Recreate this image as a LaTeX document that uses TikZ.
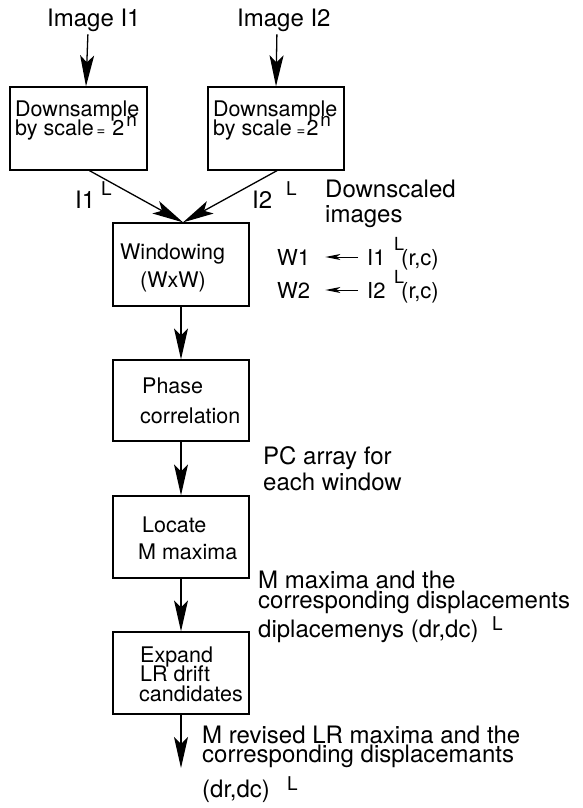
\documentclass[tikz,border=0pt]{standalone}
\usepackage{fontspec}
\setmainfont{TeX Gyre Heros}
\usetikzlibrary{arrows.meta}
\begin{document}
\begin{tikzpicture}[x=1pt,y=-1pt,
  box/.style={draw, line width=1.3pt, minimum width=136pt, minimum height=82pt, inner sep=0pt},
  lbl/.style={font=\fontsize{24}{24}\selectfont, inner sep=0pt, anchor=base west},
  btxt/.style={font=\fontsize{21.5}{21.5}\selectfont, inner sep=0pt, anchor=base west},
  wtxt/.style={font=\fontsize{22}{22}\selectfont, inner sep=0pt, anchor=base west},
  suptxt/.style={font=\fontsize{19}{19}\selectfont, inner sep=0pt, anchor=base west},
  arr/.style={-{Stealth[length=31pt,width=14pt,inset=7pt]}, line width=1.3pt},
  sarr/.style={-{Stealth[length=15pt,width=6pt,inset=4pt]}, line width=1pt}]
\useasboundingbox (0,0) rectangle (583,808);

% inputs
\node[lbl, inner ysep=2pt] (img1) at (47,27) {Image I1};
\node[lbl, inner ysep=2pt] (img2) at (237,27) {Image I2};

% downsampling boxes
\node[box, minimum width=137pt, minimum height=83pt] (d1) at (78.5,128.5) {};
\node[box, minimum height=83pt] (d2) at (276,128.5) {};
\node[btxt] (d1a) at (15,116) {Downsample};
\node[btxt] (d1b) at (15,135) {by scale\kern3pt{\fontsize{15}{15}\selectfont =}\kern7pt 2\kern2pt\raisebox{9pt}{\fontsize{19}{19}\selectfont n}};
\node[btxt] (d2a) at (213,116) {Downsample};
\node[btxt] (d2b) at (213,135) {by scale\kern5pt{\fontsize{15}{15}\selectfont =}\kern1pt 2\kern2pt\raisebox{9pt}{\fontsize{19}{19}\selectfont n}};

\draw[arr] ([xshift=-6pt]img1.south) -- ([xshift=7.5pt]d1.north);
\draw[arr] ([xshift=-7pt]img2.south) -- (d2.north);

% downscaled image labels
\node[lbl] (l1) at (75,208) {I1};
\node[suptxt] (l1s) at (101,195) {L};
\node[lbl] (l2) at (252,208) {I2};
\node[suptxt] (l2s) at (286,195) {L};

% processing chain
\node[box, minimum height=83pt] (win) at (181,264.5) {};
\node[btxt] (wina) at (120,259) {Windowing};
\node[btxt] (winb) at (140,287) {(WxW)};

\node[box, minimum height=81pt] (pc) at (181,400.5) {};
\node[btxt] (pca) at (142,393) {Phase};
\node[btxt] (pcb) at (140,423) {correlation};

\node[box] (loc) at (181,537) {};
\node[btxt] (loca) at (142,532) {Locate};
\node[btxt] (locb) at (138,559) {M maxima};

\node[box] (exp) at (181,673) {};
\node[btxt] (expa) at (140,662) {Expand};
\node[btxt] (expb) at (140,681) {LR drift};
\node[btxt] (expc) at (139,701) {candidates};

\draw[arr] ([xshift=11pt]d1.south) -- ([xshift=2pt]win.north);
\draw[arr] ([xshift=1pt]d2.south) -- ([xshift=2pt]win.north);
\draw[arr] (win.south) -- (pc.north);
\draw[arr] (pc.south) -- (loc.north);
\draw[arr] (loc.south) -- (exp.north);
\coordinate (out) at (181,768);
\draw[arr] (exp.south) -- (out);

% side notes
\node[lbl] (ds1) at (325,197) {Downscaled};
\node[lbl] (ds2) at (325,222) {images};

\node[wtxt] (w1) at (277,265) {W1};
\node[wtxt] (i1r) at (367,265) {I1};
\node[suptxt, font=\fontsize{18}{18}\selectfont] (i1rs) at (394,250) {L};
\node[wtxt] (i1rc) at (401,265) {(r,c)};
\draw[sarr] ([xshift=-9pt,yshift=8pt]i1r.base west) -- ([xshift=15pt,yshift=8pt]w1.base east);

\node[wtxt] (w2) at (277,298) {W2};
\node[wtxt] (i2r) at (367,298) {I2};
\node[suptxt, font=\fontsize{18}{18}\selectfont] (i2rs) at (394,283) {L};
\node[wtxt] (i2rc) at (401,298) {(r,c)};
\draw[sarr] ([xshift=-9pt,yshift=8pt]i2r.base west) -- ([xshift=15pt,yshift=8pt]w2.base east);

\node[lbl] (pcn1) at (263,464) {PC array for};
\node[lbl] (pcn2) at (263,490) {each window};

\node[lbl] (mm1) at (258,588) {M maxima and the};
\node[lbl] (mm2) at (258,608) {corresponding displacements};
\node[lbl] (mm3) at (258,637) {diplacemenys (dr,dc)};
\node[suptxt] (mm3s) at (492,630) {L};

\node[lbl] (rv1) at (202,743) {M revised LR maxima and the};
\node[lbl] (rv2) at (202,762) {corresponding displacemants};
\node[lbl] (rv3) at (202,797) {(dr,dc)};
\node[suptxt] (rv3s) at (287,790) {L};
\end{tikzpicture}
\end{document}
